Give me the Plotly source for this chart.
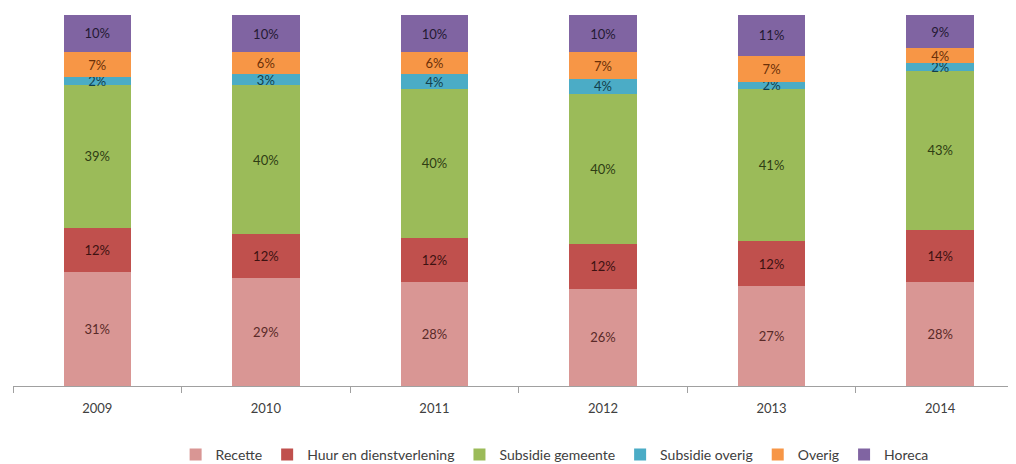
import plotly.graph_objects as go

# Aandeel inkomsten per bron (in %)
jaren = ["2009", "2010", "2011", "2012", "2013", "2014"]
recette = [31, 29, 28, 26, 27, 28]
huur = [12, 12, 12, 12, 12, 14]
subsidie_gemeente = [39, 40, 40, 40, 41, 43]
subsidie_overig = [2, 3, 4, 4, 2, 2]
overig = [7, 6, 6, 7, 7, 4]
horeca = [10, 10, 10, 10, 11, 9]

series = [
    ("Recette", recette, "#d99694", "#5a2a28"),
    ("Huur en dienstverlening", huur, "#c0504d", "#3d1211"),
    ("Subsidie gemeente", subsidie_gemeente, "#9bbb59", "#2f3d14"),
    ("Subsidie overig", subsidie_overig, "#4bacc6", "#123f4c"),
    ("Overig", overig, "#f79646", "#6b3008"),
    ("Horeca", horeca, "#8064a2", "#241a33"),
]

fig = go.Figure()
for name, vals, color, txtcolor in series:
    fig.add_trace(go.Bar(
        x=jaren,
        y=vals,
        name=name,
        marker=dict(color=color, line=dict(width=0)),
        text=[f"{v}%" for v in vals],
        textposition="inside",
        insidetextanchor="middle",
        textangle=0,
        textfont=dict(color=txtcolor, size=13, family="Lato"),
    ))

# page body adds an 8px margin, so the figure is a bit smaller than the window
fig.update_layout(
    barmode="stack",
    barnorm="percent",
    bargap=0.6,
    width=1008,
    height=456,
    margin=dict(l=5, r=0, t=7, b=78, autoexpand=False),
    paper_bgcolor="white",
    plot_bgcolor="white",
    font=dict(family="Lato", size=13, color="#404040"),
    uniformtext=dict(minsize=13, mode="show"),
    showlegend=True,
    legend=dict(
        orientation="h",
        traceorder="normal",
        x=0.54,
        xanchor="center",
        y=-0.186,
        yanchor="middle",
        font=dict(size=14, color="#404040"),
        itemwidth=30,
    ),
)

fig.update_xaxes(
    range=[-0.5, 5.45],
    automargin=False,
    showline=True,
    linecolor="#a0a0a0",
    linewidth=1,
    ticks="outside",
    tickson="boundaries",
    ticklen=6,
    tickcolor="#a0a0a0",
    ticklabelstandoff=10,
    tickfont=dict(size=13, color="#404040"),
    showgrid=False,
)
fig.update_yaxes(visible=False, range=[0, 100], automargin=False)

fig.write_html("out.html")
